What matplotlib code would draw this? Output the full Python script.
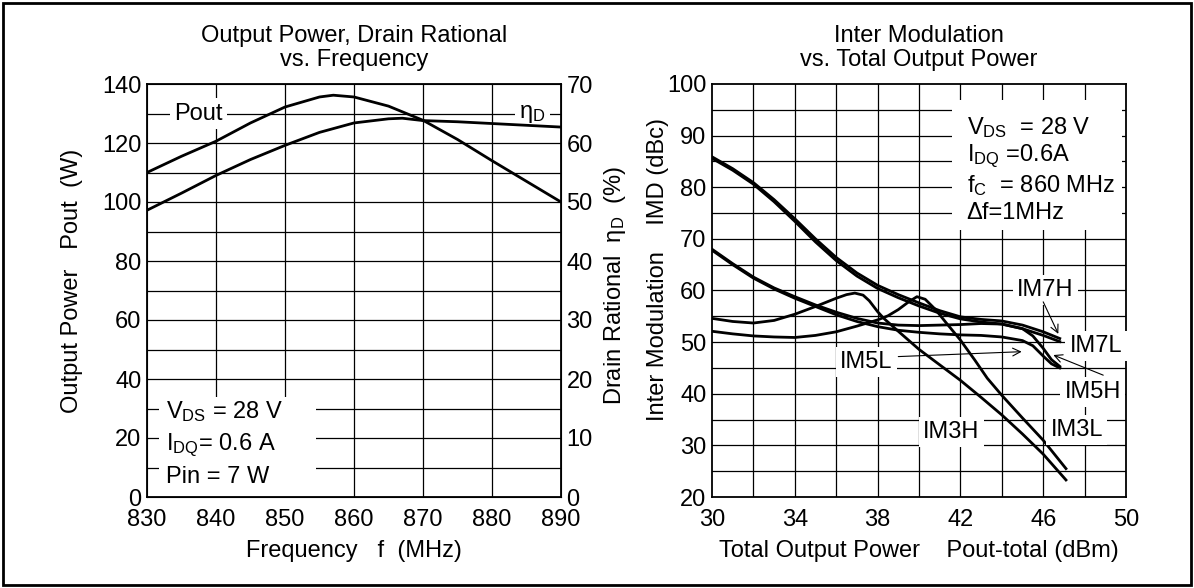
import matplotlib
matplotlib.use('Agg')
import matplotlib.pyplot as plt
from matplotlib.patches import Rectangle

plt.rcParams['font.family'] = ['Liberation Sans', 'DejaVu Sans']
plt.rcParams['mathtext.fontset'] = 'custom'
plt.rcParams['mathtext.rm'] = 'Liberation Sans'
plt.rcParams['mathtext.it'] = 'Liberation Sans:italic'
FS = 17

# left chart: output power / drain efficiency vs frequency
freq = [830, 835, 840, 845, 850, 855, 857, 860, 865, 870, 875, 880, 885, 890]
pout_w = [110, 115.5, 120.6, 126.8, 132.2, 135.6, 136.2, 135.6, 132.5, 127.7, 121.2, 114, 107, 100]
freq_eta = [830, 835, 840, 845, 850, 855, 860, 865, 867, 870, 875, 880, 885, 890]
eta_d = [48.6, 51.5, 54.5, 57.2, 59.6, 61.8, 63.4, 64.1, 64.2, 63.8, 63.6, 63.3, 63.0, 62.7]

# right chart: IMD vs total output power
p_im7 = [30, 31, 32, 33, 34, 35, 36, 37, 38, 39, 40, 41, 42, 43, 44, 45, 46, 46.8]
im7h = [85.9, 83.6, 80.9, 77.6, 73.9, 70.0, 66.4, 63.4, 61.0, 59.2, 57.6, 56.1, 54.9, 54.4, 54.1, 53.3, 52.0, 50.7]
im7l = [85.6, 83.3, 80.6, 77.2, 73.4, 69.4, 65.8, 62.8, 60.4, 58.6, 57.0, 55.6, 54.5, 53.9, 53.5, 52.6, 51.3, 50.1]
p_im5 = [30, 31, 32, 33, 34, 35, 36, 37, 38, 39, 40, 41, 42, 43, 44, 45, 45.5, 46, 46.4, 46.8]
im5h = [68.0, 65.2, 62.6, 60.5, 58.8, 57.2, 55.8, 54.6, 53.7, 53.3, 53.2, 53.3, 53.4, 53.6, 53.5, 52.6, 51.2, 48.8, 46.6, 45.3]
im5l = [67.8, 65.0, 62.4, 60.3, 58.5, 56.9, 55.3, 54.0, 53.0, 52.3, 51.9, 51.6, 51.4, 51.3, 51.0, 50.3, 49.3, 47.3, 45.8, 45.0]
p_im3h = [30, 31, 32, 33, 34, 35, 36, 36.5, 36.9, 37.3, 37.6, 38.0, 38.3, 39, 40, 41, 42, 43, 44, 45, 46, 47.1]
im3h = [54.6, 54.0, 53.7, 54.2, 55.4, 56.9, 58.5, 59.2, 59.5, 59.1, 58.0, 55.9, 54.6, 52.1, 48.6, 45.6, 42.6, 39.3, 35.9, 32.2, 28.3, 23.3]
p_im3l = [30, 31, 32, 33, 34, 35, 36, 37, 38, 38.5, 39, 39.5, 39.9, 40.3, 40.8, 41.3, 42, 42.7, 43.3, 44, 45, 46, 47.1]
im3l = [52.1, 51.6, 51.2, 51.0, 50.9, 51.3, 52.0, 53.1, 54.3, 55.1, 56.3, 57.8, 58.8, 58.3, 56.3, 53.8, 50.4, 46.5, 43.0, 39.7, 35.3, 31.0, 25.5]

fig = plt.figure(figsize=(11.94, 5.88), dpi=100)
fig.patches.append(Rectangle((3/1194, 3/588), 1188/1194, 582/588, transform=fig.transFigure,
                             fill=False, edgecolor='black', lw=2))

grid_kw = dict(color='black', lw=0.9, zorder=0.5)
box_kw = dict(facecolor='white', edgecolor='none', pad=3)

# ---------- left ----------
ax1 = fig.add_axes([147/1194, 91/588, 414/1194, 413/588])
ax1.set_xlim(830, 890)
ax1.set_ylim(0, 140)
ax1.set_xticks(range(830, 891, 10))
ax1.set_yticks(range(0, 141, 20))
for v in range(840, 890, 10):
    ax1.axvline(v, **grid_kw)
for v in range(10, 140, 10):
    ax1.axhline(v, **grid_kw)
ax1.add_patch(Rectangle((831.7, 0), 22.8, 33.9, facecolor='white', edgecolor='none', zorder=1))
ax1.plot(freq, pout_w, color='black', lw=2, zorder=3)
ax1.tick_params(length=0, labelsize=FS)
ax1.tick_params(axis='x', pad=9)
ax1.tick_params(axis='y', pad=4)
ax1.set_title('Output Power, Drain Rational\nvs. Frequency', fontsize=FS, pad=13, linespacing=1.1)
ax1.set_xlabel('Frequency   f  (MHz)', fontsize=FS)
ax1.xaxis.set_label_coords(0.5, -0.105)
ax1.set_ylabel('Output Power   Pout  (W)', fontsize=FS)
ax1.yaxis.set_label_coords(-0.155, 0.523)
ax1.text(837.4, 130, 'Pout', fontsize=FS, ha='center', va='center', bbox=box_kw, zorder=4)
ax1.text(885.8, 130, 'η$_{\\mathrm{D}}$', fontsize=FS, ha='center', va='center', bbox=box_kw, zorder=4)
ax1.text(832.7, 28.9, 'V$_{\\mathrm{DS}}$ = 28 V', fontsize=FS, va='center', zorder=4)
ax1.text(832.7, 17.6, 'I$_{\\mathrm{DQ}}$= 0.6 A', fontsize=FS, va='center', zorder=4)
ax1.text(832.7, 6.9, 'Pin = 7 W', fontsize=FS, va='center', zorder=4)
for s in ax1.spines.values():
    s.set_linewidth(1.3)

ax1b = ax1.twinx()
ax1b.set_ylim(0, 70)
ax1b.set_yticks(range(0, 71, 10))
ax1b.plot(freq_eta, eta_d, color='black', lw=2, zorder=3)
ax1b.tick_params(length=0, labelsize=FS, pad=4)
ax1b.set_ylabel('Drain Rational  η$_{\\mathrm{D}}$  (%)', fontsize=FS)
ax1b.yaxis.set_label_coords(1.099, 0.513)

# ---------- right ----------
ax2 = fig.add_axes([712/1194, 91/588, 414/1194, 413/588])
ax2.set_xlim(30, 50)
ax2.set_ylim(20, 100)
ax2.set_xticks(range(30, 51, 4))
ax2.set_yticks(range(20, 101, 10))
for v in range(32, 50, 2):
    ax2.axvline(v, **grid_kw)
for v in range(25, 100, 5):
    ax2.axhline(v, **grid_kw)
ax2.add_patch(Rectangle((41.6, 71.7), 8.2, 25.2, facecolor='white', edgecolor='none', zorder=1))
for xs, ys in [(p_im7, im7h), (p_im7, im7l), (p_im5, im5h), (p_im5, im5l),
               (p_im3h, im3h), (p_im3l, im3l)]:
    ax2.plot(xs, ys, color='black', lw=2, zorder=3)
ax2.tick_params(length=0, labelsize=FS)
ax2.tick_params(axis='x', pad=9)
ax2.tick_params(axis='y', pad=4)
ax2.set_title('Inter Modulation\nvs. Total Output Power', fontsize=FS, pad=13, linespacing=1.1)
ax2.set_xlabel('Total Output Power    Pout-total (dBm)', fontsize=FS)
ax2.xaxis.set_label_coords(0.5, -0.105)
ax2.set_ylabel('Inter Modulation    IMD (dBc)', fontsize=FS)
ax2.yaxis.set_label_coords(-0.104, 0.55)
for s in ax2.spines.values():
    s.set_linewidth(1.3)

ax2.text(42.3, 91.5, 'V$_{\\mathrm{DS}}$  = 28 V', fontsize=FS, va='center', zorder=4)
ax2.text(42.3, 85.9, 'I$_{\\mathrm{DQ}}$ =0.6A', fontsize=FS, va='center', zorder=4)
ax2.text(42.3, 80.4, 'f$_{\\mathrm{C}}$  = 860 MHz', fontsize=FS, va='center', zorder=4)
ax2.text(42.3, 75.0, 'Δf=1MHz', fontsize=FS, va='center', zorder=4)

labels = {'IM7H': (46.09, 60.1), 'IM7L': (48.55, 49.25), 'IM5H': (48.4, 40.3),
          'IM5L': (37.44, 46.15), 'IM3H': (41.55, 32.6), 'IM3L': (47.63, 33.0)}
for name, (lx, ly) in labels.items():
    ax2.text(lx, ly, name, fontsize=FS, ha='center', va='center', bbox=box_kw, zorder=4)

arrow_kw = dict(arrowstyle='->', lw=0.8, color='black', mutation_scale=14, shrinkA=0, shrinkB=0)
ax2.annotate('', xy=(46.73, 51.6), xytext=(46.0, 57.8), arrowprops=arrow_kw, zorder=4)
ax2.annotate('', xy=(46.49, 47.5), xytext=(48.9, 43.6), arrowprops=arrow_kw, zorder=4)
ax2.annotate('', xy=(44.96, 48.15), xytext=(39.0, 47.2), arrowprops=arrow_kw, zorder=4)

fig.savefig('out.png', dpi=100)
